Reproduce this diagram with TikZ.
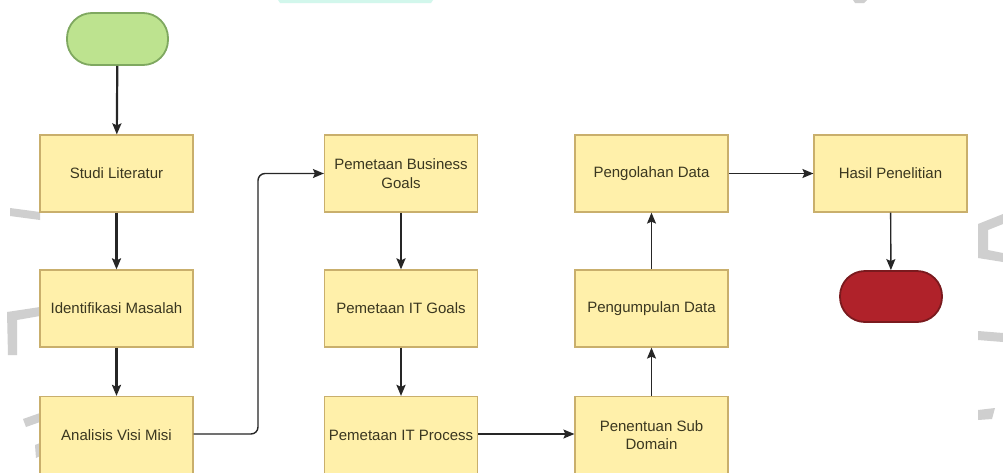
\documentclass[tikz,border=0pt]{standalone}
\usepackage{fontspec}
\setmainfont{Liberation Sans}
\usetikzlibrary{arrows.meta}
\definecolor{boxfill}{HTML}{FFF0AA}
\definecolor{boxline}{HTML}{C9AF6C}
\definecolor{txt}{HTML}{3A3720}
\definecolor{startfill}{HTML}{BDE38F}
\definecolor{startline}{HTML}{7FA860}
\definecolor{endfill}{HTML}{B0222A}
\definecolor{endline}{HTML}{7A1A1E}
\definecolor{wm}{HTML}{CFCFCF}
\definecolor{wmcyan}{HTML}{D2F7EC}
\definecolor{arr}{HTML}{262626}
\begin{document}
\begin{tikzpicture}[x=1pt,y=-1pt,
  stepbox/.style={draw=boxline,fill=boxfill,line width=1.2pt,minimum width=153pt,minimum height=77pt,inner sep=0pt,align=center,text=txt,font=\fontsize{15}{18.5}\selectfont},
  termbox/.style={line width=1.8pt,minimum width=101pt,minimum height=52pt,inner sep=0pt,rounded corners=25pt},
  thick arrow/.style={draw=arr,line width=2.2pt,-{Stealth[length=11pt,width=9pt,inset=2pt]}},
  thin arrow/.style={draw=arr,line width=1.4pt,-{Stealth[length=11pt,width=9pt,inset=2pt]}}]
\useasboundingbox (0,0) rectangle (1003,472);
\fill[white] (0,0) rectangle (1003,472);
% watermark fragments
\fill[wmcyan] (278,0) -- (433,0) -- (431,3) -- (280,3) -- cycle;
\fill[wm] (853,0) -- (867,0) -- (864,3) -- (855,3) -- cycle;
\fill[wm] (10,208) -- (40,212) -- (40,220) -- (10,216) -- cycle;
\fill[wm] (7,312) -- (40,307) -- (40,316) -- (17,320) -- (17,355) -- (8,355) -- cycle;
\fill[wm] (23,419) -- (40,413) -- (40,422) -- (26,427) -- cycle;
\fill[wm] (35,445) -- (40,443) -- (40,456) -- (36,458) -- cycle;
\fill[wm] (978,224) -- (1003,214) -- (1003,224) -- (988,230) -- (988,250) -- (1003,253) -- (1003,262) -- (978,258) -- cycle;
\fill[wm] (978,331) -- (1003,333) -- (1003,342) -- (978,340) -- cycle;
\fill[wm] (978,410) -- (995,408) -- (992,419) -- (978,420) -- cycle;
% nodes
\node[termbox,draw=startline,fill=startfill] (start) at (117.5,39) {};
\node[stepbox] (studi) at (116.5,173.5) {Studi Literatur};
\node[stepbox] (ident) at (116.5,308.5) {Identifikasi Masalah};
\node[stepbox] (anal) at (116.5,435) {Analisis Visi Misi};
\node[stepbox] (bg) at (401,173.5) {Pemetaan Business\\Goals};
\node[stepbox] (itg) at (401,308.5) {Pemetaan IT Goals};
\node[stepbox] (itp) at (401,435) {Pemetaan IT Process};
\node[stepbox] (olah) at (651.5,173.5) {Pengolahan Data};
\node[stepbox] (kumpul) at (651.5,308.5) {Pengumpulan Data};
\node[stepbox] (tentu) at (651.5,435) {Penentuan Sub\\Domain};
\node[stepbox] (hasil) at (890.5,173.5) {Hasil Penelitian};
\node[termbox,draw=endline,fill=endfill,minimum width=102pt,minimum height=51pt] (end) at (891,296.5) {};
% connectors
\draw[thick arrow] (start) -- (studi);
\draw[thick arrow] (studi) -- (ident);
\draw[thick arrow] (ident) -- (anal);
\draw[thin arrow,rounded corners=7pt] (anal.east |- 0,434) -- (258,434) -- (258,173.5) -- (bg.west);
\draw[thick arrow] (bg) -- (itg);
\draw[thick arrow] (itg) -- (itp);
\draw[thin arrow] (itp.east |- 0,434) -- (tentu.west |- 0,434);
\draw[thin arrow] (tentu) -- (kumpul);
\draw[thin arrow] (kumpul) -- (olah);
\draw[thin arrow] (olah) -- (hasil);
\draw[thin arrow] (hasil) -- (end);
\end{tikzpicture}
\end{document}
